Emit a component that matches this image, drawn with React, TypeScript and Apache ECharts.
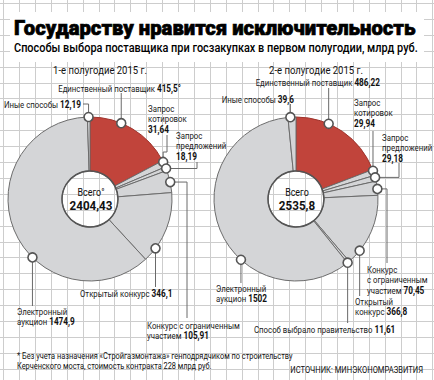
import React, { useEffect, useRef } from 'react';
import * as echarts from 'echarts';

const title = 'Государству нравится исключительность';
const subtitle = 'Способы выбора поставщика при госзакупках в первом полугодии, млрд руб.';
const periods = ['1-е полугодие 2015 г.', '2-е полугодие 2015 г.'];
const totalLabel = 'Всего';

const categories1 = [
  'Единственный поставщик',
  'Запрос котировок',
  'Запрос предложений',
  'Конкурс с ограниченным участием',
  'Открытый конкурс',
  'Электронный аукцион',
  'Иные способы',
];
const values1 = [415.5, 31.64, 18.19, 105.91, 346.1, 1474.9, 12.19];

const categories2 = [
  'Единственный поставщик',
  'Запрос котировок',
  'Запрос предложений',
  'Конкурс с ограниченным участием',
  'Открытый конкурс',
  'Способ выбрало правительство',
  'Электронный аукцион',
  'Иные способы',
];
const values2 = [486.22, 29.94, 29.18, 70.45, 366.8, 11.61, 1502, 39.6];

const footnote = [
  '* Без учета назначения «Стройгазмонтажа» генподрядчиком по строительству',
  'Керченского моста, стоимость контракта 228 млрд руб.',
];
const source = 'ИСТОЧНИК: МИНЭКОНОМРАЗВИТИЯ';

// ---- layout / style (not data) ----
const W = 434;
const H = 380;
const FAM = 'Roboto, sans-serif';
const RED = '#c1443b';
const GRAY = '#d4d5d7';
const EDGE = '#6c6c6c';

type Step = ['x' | 'y', number];
type Ann = {
  frac: number; // where on the slice edge the marker sits (0..1)
  tx: number;
  ty: number;
  align: 'left' | 'right' | 'center';
  br: number[]; // break after these word indexes
  vbr?: boolean; // value on its own line
  path: Step[];
  suffix?: string;
};

const pies = [
  {
    cx: 90,
    cy: 199,
    names: categories1,
    values: values1,
    period: periods[0],
    px: 100,
    totalSuffix: '°',
    colors: [RED, GRAY, GRAY, GRAY, GRAY, GRAY, GRAY],
    anns: [
      { frac: 0.36, tx: 181, ty: 83, align: 'right', br: [], path: [['y', 93]], suffix: '°' },
      { frac: 0.2, tx: 148, ty: 103, align: 'left', br: [0], vbr: true, path: [['y', 152], ['x', 167], ['y', 135]] },
      { frac: 0.45, tx: 176, ty: 130, align: 'left', br: [0], vbr: true, path: [['x', 197], ['y', 162]] },
      { frac: 0.53, tx: 147, ty: 320, align: 'left', br: [2], path: [['x', 187], ['y', 318]] },
      { frac: 0.8, tx: 80, ty: 288, align: 'left', br: [], path: [['y', 287]] },
      { frac: 0.395, tx: 17, ty: 306, align: 'left', br: [0], path: [['y', 306]] },
      { frac: 0.45, tx: 81, ty: 99, align: 'right', br: [], path: [['y', 104], ['x', 83]] },
    ] as Ann[],
  },
  {
    cx: 296,
    cy: 199,
    names: categories2,
    values: values2,
    period: periods[1],
    px: 316,
    totalSuffix: '',
    colors: [RED, GRAY, GRAY, GRAY, GRAY, GRAY, GRAY, GRAY],
    anns: [
      { frac: 0.34, tx: 380, ty: 77, align: 'right', br: [], path: [['y', 88]] },
      { frac: 0.2, tx: 354, ty: 97, align: 'left', br: [0], vbr: true, path: [['y', 131]] },
      { frac: 0.35, tx: 382, ty: 132, align: 'left', br: [0], vbr: true, path: [['x', 399], ['y', 163]] },
      { frac: 0.55, tx: 367, ty: 264, align: 'left', br: [0, 2], path: [['x', 387], ['y', 263]] },
      { frac: 0.8, tx: 355, ty: 296, align: 'left', br: [0], path: [['y', 296]] },
      { frac: 0.9, tx: 254, ty: 324, align: 'left', br: [], path: [['y', 323]] },
      { frac: 0.38, tx: 216, ty: 283, align: 'left', br: [0], path: [['y', 283]] },
      { frac: 0.3, tx: 294, ty: 94, align: 'right', br: [], path: [['y', 104]] },
    ] as Ann[],
  },
];

const R_OUT = 82;
const R_IN = 28;

const fmt = (v: number) => String(Math.round(v * 100) / 100).replace('.', ',');

const NAME_FONT = `9.5px ${FAM}`;
const VAL_FONT = `bold 10px ${FAM}`;
const rich = {
  n: { fontSize: 9.5, fontFamily: FAM, fill: '#1a1a1a', lineHeight: 10.5 },
  v: { fontSize: 10, fontFamily: FAM, fontWeight: 'bold', fill: '#111', lineHeight: 10.5 },
};

function labelText(name: string, value: string, a: Ann) {
  const words = name.split(' ');
  const lines: string[] = [];
  let cur: string[] = [];
  words.forEach((w, i) => {
    cur.push(w);
    if (a.br.includes(i)) {
      lines.push(cur.join(' '));
      cur = [];
    }
  });
  if (cur.length) lines.push(cur.join(' '));
  const out = lines.map((l) => `{n|${l}}`);
  if (a.vbr) out.push(`{v|${value}}`);
  else out[out.length - 1] = `{n|${lines[lines.length - 1]} }{v|${value}}`;
  return out.join('\n');
}

function makeMeasure() {
  const ctx = document.createElement('canvas').getContext('2d');
  return (text: string, font: string) => {
    if (!ctx) return text.length * 6;
    ctx.font = font;
    return ctx.measureText(text).width;
  };
}

function buildGraphics() {
  const measure = makeMeasure();
  const fit = (text: string, font: string, target: number) => target / Math.max(1, measure(text, font));
  const kLabel = 123 / (measure('Единственный поставщик ', NAME_FONT) + measure('415,5°', VAL_FONT));

  const g: any[] = [];
  // background grid
  const step = 15.9;
  for (let x = 3.1; x < W; x += step) {
    g.push({ type: 'line', z: 0, silent: true, shape: { x1: Math.round(x) + 0.5, y1: 0, x2: Math.round(x) + 0.5, y2: H }, style: { stroke: '#cdcdcd', lineWidth: 1 } });
  }
  for (let y = 3; y < H; y += step) {
    g.push({ type: 'line', z: 0, silent: true, shape: { x1: 0, y1: Math.round(y) + 0.5, x2: W, y2: Math.round(y) + 0.5 }, style: { stroke: '#cdcdcd', lineWidth: 1 } });
  }
  // title box
  g.push({ type: 'rect', z: 1, silent: true, shape: { x: 10, y: 12, width: 414, height: 50 }, style: { fill: '#fff' } });
  const tFont = `900 21px ${FAM}`;
  g.push({ type: 'text', z: 2, x: 14, y: 28, scaleX: fit(title, tFont, 402), style: { text: title, font: tFont, fill: '#000', stroke: '#000', lineWidth: 0.7, verticalAlign: 'middle', align: 'left' } });
  const sFont = `500 12px ${FAM}`;
  g.push({ type: 'text', z: 2, x: 14, y: 48, scaleX: fit(subtitle, sFont, 404), style: { text: subtitle, font: sFont, fill: '#000', verticalAlign: 'middle', align: 'left' } });

  pies.forEach((p) => {
    const total = p.values.reduce((s, v) => s + v, 0);
    const pFont = `11.5px ${FAM}`;
    g.push({ type: 'text', z: 5, x: p.px, y: 70, scaleX: fit(periods[0], pFont, 94), style: { text: p.period, font: pFont, fill: '#111', align: 'center', verticalAlign: 'middle' } });
    // hole outline
    g.push({ type: 'circle', z: 5, silent: true, shape: { cx: p.cx, cy: p.cy, r: R_IN }, style: { fill: 'none', stroke: '#555', lineWidth: 1.5 } });
    const aFont = `10.5px ${FAM}`;
    const bFont = `bold 13px ${FAM}`;
    g.push({ type: 'text', z: 6, x: p.cx + 1, y: p.cy - 7, scaleX: 0.85, style: { text: totalLabel + p.totalSuffix, font: aFont, fill: '#111', align: 'center', verticalAlign: 'middle' } });
    g.push({ type: 'text', z: 6, x: p.cx + 1, y: p.cy + 7, scaleX: fit('2404,43', bFont, 43), style: { text: fmt(total), font: bFont, fill: '#111', align: 'center', verticalAlign: 'middle' } });

    let start = 0;
    p.values.forEach((v, i) => {
      const sweep = (v / total) * 360;
      const a = p.anns[i];
      const ang = ((start + a.frac * sweep) * Math.PI) / 180;
      start += sweep;
      const mx = p.cx + R_OUT * Math.sin(ang);
      const my = p.cy - R_OUT * Math.cos(ang);
      const pts: number[][] = [[mx, my]];
      let cx = mx;
      let cy = my;
      a.path.forEach(([k, val]) => {
        if (k === 'x') cx = val;
        else cy = val;
        pts.push([cx, cy]);
      });
      g.push({ type: 'polyline', z: 8, silent: true, shape: { points: pts }, style: { stroke: '#6a6a6a', lineWidth: 1, fill: 'none' } });
      g.push({ type: 'circle', z: 9, silent: true, shape: { cx: mx, cy: my, r: 4.5 }, style: { fill: '#fff', stroke: '#555', lineWidth: 1.6 } });
      g.push({
        type: 'text',
        z: 9,
        x: a.tx,
        y: a.ty,
        scaleX: kLabel,
        style: { text: labelText(p.names[i], fmt(v) + (a.suffix || ''), a), rich, align: a.align, verticalAlign: 'top' },
      });
    });
  });

  // footnote
  const fFont = `9.5px ${FAM}`;
  g.push({ type: 'text', z: 5, x: 17, y: 350, scaleX: fit(footnote[0], fFont, 276), style: { text: footnote.join('\n'), font: fFont, fill: '#111', lineHeight: 10.5, align: 'left', verticalAlign: 'top' } });
  const srcFont = `9px ${FAM}`;
  g.push({ type: 'text', z: 5, x: 423, y: 370, scaleX: fit(source, srcFont, 133), style: { text: source, font: srcFont, fill: '#111', align: 'right', verticalAlign: 'middle' } });
  return g;
}

export default function App() {
  const ref = useRef<HTMLDivElement>(null);
  useEffect(() => {
    document.body.style.margin = '0';
    if (!ref.current) return;
    const chart = echarts.init(ref.current, null, { renderer: 'svg' });
    chart.setOption({
      animation: false,
      backgroundColor: '#ffffff',
      series: pies.map((p) => ({
        type: 'pie',
        silent: true,
        z: 3,
        center: [p.cx, p.cy],
        radius: [R_IN, R_OUT],
        startAngle: 90,
        clockwise: true,
        label: { show: false },
        labelLine: { show: false },
        emphasis: { disabled: true },
        data: p.values.map((v, i) => ({
          name: p.names[i],
          value: v,
          itemStyle: {
            color: p.colors[i],
            borderColor: p.colors[i] === RED ? '#9e332c' : EDGE,
            borderWidth: 1,
          },
        })),
      })),
      graphic: { elements: buildGraphics() },
    });
    return () => chart.dispose();
  }, []);
  return <div ref={ref} style={{ width: W, height: H }} />;
}
